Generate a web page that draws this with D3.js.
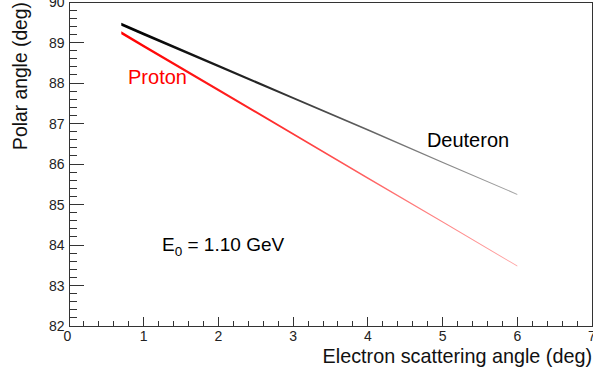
<!DOCTYPE html>
<html>
<head>
<meta charset="utf-8">
<script src="https://cdn.jsdelivr.net/npm/d3@7"></script>
<style>
  html, body { margin: 0; padding: 0; background: #fff; }
  svg { display: block; font-family: "Liberation Sans", Arial, Helvetica, sans-serif; }
</style>
</head>
<body>
<svg id="chart" width="593" height="381"></svg>
<script>
// Electron scattering angle (deg) at which the recoil angle was evaluated
const electronAngle = [0.7, 1, 2, 3, 4, 5, 6];
// Recoil polar angle (deg) for each target
const deuteronAngle = [89.45, 89.21, 88.42, 87.63, 86.84, 86.04, 85.25];
const protonAngle   = [89.24, 88.91, 87.83, 86.74, 85.65, 84.57, 83.48];

const xTicks = [0, 1, 2, 3, 4, 5, 6, 7];
const yTicks = [82, 83, 84, 85, 86, 87, 88, 89, 90];

const svg = d3.select("#chart");
const W = 593, H = 381;
const m = { left: 69, right: 1, top: 2, bottom: 55 };

const x = d3.scaleLinear().domain([0, 7]).range([m.left, W - m.right]);
const y = d3.scaleLinear().domain([82, 90]).range([H - m.bottom, m.top]);

const axisColor = "#333";

// frame
svg.append("rect")
  .attr("x", x(0)).attr("y", y(90))
  .attr("width", x(7) - x(0)).attr("height", y(82) - y(90))
  .attr("fill", "none").attr("stroke", axisColor).attr("stroke-width", 1)
  .attr("shape-rendering", "crispEdges");

// x ticks (pointing into the plot)
const xMinor = d3.range(0, 35).map(i => i / 5).filter(v => !Number.isInteger(v));
const gx = svg.append("g").attr("stroke", axisColor).attr("shape-rendering", "crispEdges");
gx.selectAll(".xmaj").data(xTicks).join("line")
  .attr("x1", d => x(d)).attr("x2", d => x(d))
  .attr("y1", y(82)).attr("y2", y(82) - 9);
gx.selectAll(".xmin").data(xMinor).join("line")
  .attr("x1", d => x(d)).attr("x2", d => x(d))
  .attr("y1", y(82)).attr("y2", y(82) - 5);

// y ticks
const yMinor = d3.range(0, 40).map(i => 82 + i / 5).filter(v => Math.abs(v - Math.round(v)) > 1e-6);
const gy = svg.append("g").attr("stroke", axisColor).attr("shape-rendering", "crispEdges");
gy.selectAll(".ymaj").data(yTicks).join("line")
  .attr("y1", d => y(d)).attr("y2", d => y(d))
  .attr("x1", x(0)).attr("x2", x(0) + 15);
gy.selectAll(".ymin").data(yMinor).join("line")
  .attr("y1", d => y(d)).attr("y2", d => y(d))
  .attr("x1", x(0)).attr("x2", x(0) + 8);

// tick labels
svg.append("g").selectAll("text").data(xTicks).join("text")
  .attr("x", d => x(d) - (d === 0 ? 1.5 : 0)).attr("y", y(82) + 14.5)
  .attr("text-anchor", "middle").attr("font-size", 14).attr("fill", "#222")
  .text(d => d);
svg.append("g").selectAll("text").data(yTicks).join("text")
  .attr("x", x(0) - 4.5).attr("y", d => y(d) + 5)
  .attr("text-anchor", "end").attr("font-size", 14).attr("fill", "#222")
  .text(d => d);

// axis titles
svg.append("text")
  .attr("x", x(7)).attr("y", 363)
  .attr("text-anchor", "end").attr("font-size", 19.8).attr("fill", "#111")
  .text("Electron scattering angle (deg)");
svg.append("text")
  .attr("transform", `translate(27,${y(90)}) rotate(-90)`)
  .attr("text-anchor", "end").attr("font-size", 19.3).attr("fill", "#111")
  .text("Polar angle (deg)");

// curves: band that thins and fades with angle
const widthAt = d3.scaleLinear().domain([0.7, 6]).range([3, 1]).clamp(true);
const defs = svg.append("defs");
function fadeGradient(id, color) {
  const g = defs.append("linearGradient").attr("id", id)
    .attr("gradientUnits", "userSpaceOnUse")
    .attr("x1", x(0.7)).attr("x2", x(6)).attr("y1", 0).attr("y2", 0);
  [[0, 1], [0.35, 0.85], [0.7, 0.55], [1, 0.35]].forEach(([o, a]) =>
    g.append("stop").attr("offset", o).attr("stop-color", color).attr("stop-opacity", a));
}
fadeGradient("fadeD", "#000");
fadeGradient("fadeP", "#ff0000");

const band = d3.area()
  .x(d => x(d[0]))
  .y0(d => y(d[1]) - widthAt(d[0]) / 2)
  .y1(d => y(d[1]) + widthAt(d[0]) / 2);

svg.append("path").datum(d3.zip(electronAngle, deuteronAngle))
  .attr("d", band).attr("fill", "url(#fadeD)");
svg.append("path").datum(d3.zip(electronAngle, protonAngle))
  .attr("d", band).attr("fill", "url(#fadeP)");

// annotations
svg.append("text").attr("x", x(0.79)).attr("y", y(87.97))
  .attr("font-size", 20).attr("fill", "#ff0000").text("Proton");
svg.append("text").attr("x", x(4.79)).attr("y", y(86.43))
  .attr("font-size", 20).attr("fill", "#000").text("Deuteron");
const e0 = svg.append("text").attr("x", x(1.245)).attr("y", y(83.86))
  .attr("font-size", 19).attr("fill", "#000");
e0.append("tspan").text("E");
e0.append("tspan").attr("font-size", 13.5).attr("dy", 5).text("0");
e0.append("tspan").attr("dy", -5).text(" = 1.10 GeV");
</script>
</body>
</html>
